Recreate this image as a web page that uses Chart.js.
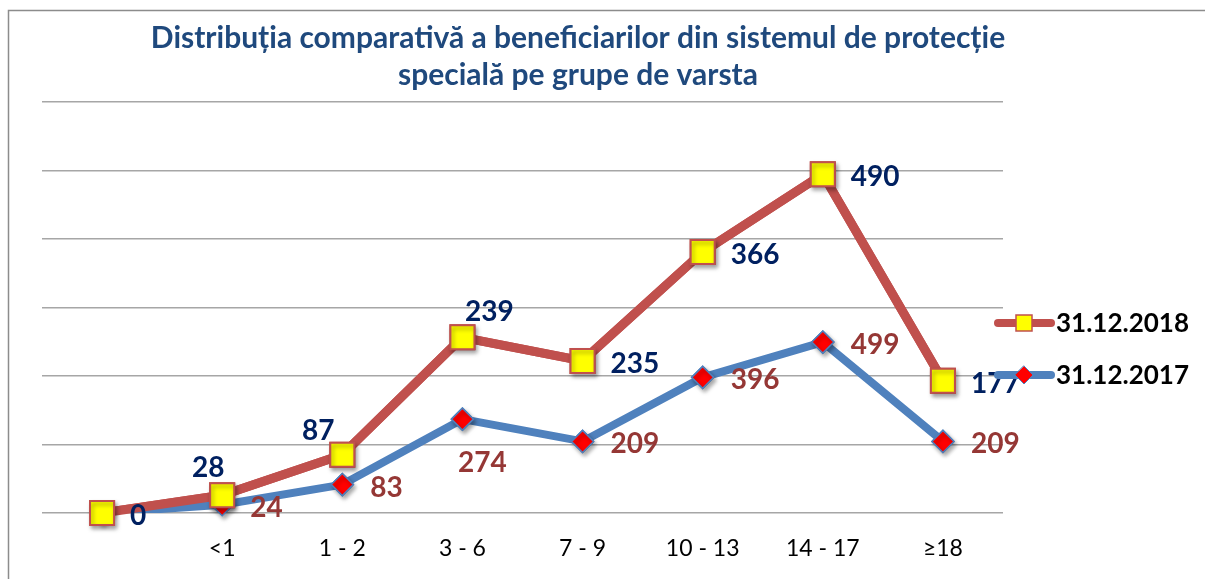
<!DOCTYPE html>
<html><head><meta charset="utf-8">
<script src="https://cdn.jsdelivr.net/npm/chart.js@4.4.1/dist/chart.umd.min.js"></script>
<style>html,body{margin:0;padding:0;background:#fff;}#wrap{position:relative;width:1205px;height:579px;}</style>
</head><body><div id="wrap"><canvas id="c" width="1205" height="579"></canvas></div>
<script>
const categories = ['', '<1', '1 - 2', '3 - 6', '7 - 9', '10 - 13', '14 - 17', '≥18'];
const values2018 = [0, 28, 87, 239, 235, 366, 490, 177];
const values2017 = [0, 24, 83, 274, 209, 396, 499, 209];
const seriesNames = ['31.12.2018', '31.12.2017'];
const titleLines = ['Distribuția comparativă a beneficiarilor din sistemul de protecție', 'specială pe grupe de varsta'];
const yMin = 0, yMax = 1200, yStep = 200;
const labelPos2018 = ['right', 'above', 'aboveLeft', 'aboveRight', 'right', 'right', 'right', 'right'];
const labelPos2017 = ['none', 'right', 'right', 'below', 'right', 'right', 'right', 'right'];

const FONT = 'Lato, "Open Sans", sans-serif';
const RED = '#C0504D', BLUE = '#4F81BD';

const framePlugin = {
  id: 'frame',
  beforeDraw(chart) {
    const ctx = chart.ctx;
    ctx.save();
    ctx.strokeStyle = '#8c8c8c';
    ctx.lineWidth = 1.5;
    ctx.beginPath();
    ctx.moveTo(8.5, 579); ctx.lineTo(8.5, 10.5); ctx.lineTo(1205, 10.5);
    ctx.stroke();
    ctx.restore();
  }
};

const titlePlugin = {
  id: 'customTitle',
  afterDraw(chart) {
    const ctx = chart.ctx;
    ctx.save();
    ctx.fillStyle = '#1F497D';
    ctx.font = 'bold 30px ' + FONT;
    ctx.textAlign = 'center';
    ctx.textBaseline = 'middle';
    ctx.fillText(titleLines[0], 578, 38);
    ctx.fillText(titleLines[1], 578, 75);
    ctx.restore();
  }
};

// Redraw 2018 line above 2017, then markers with a soft shadow
const topPlugin = {
  id: 'redrawTop',
  afterDatasetsDraw(chart) {
    const ctx = chart.ctx;
    const m0 = chart.getDatasetMeta(0), m1 = chart.getDatasetMeta(1);
    ctx.save();
    m1.dataset.draw(ctx);
    ctx.shadowColor = 'rgba(0,0,0,0.35)';
    ctx.shadowBlur = 4;
    ctx.shadowOffsetX = 2;
    ctx.shadowOffsetY = 3;
    m0.data.forEach(p => p.draw(ctx, chart.chartArea));
    m1.data.forEach(p => p.draw(ctx, chart.chartArea));
    ctx.restore();
  }
};

const labelPlugin = {
  id: 'valueLabels',
  afterDatasetsDraw(chart) {
    const ctx = chart.ctx;
    ctx.save();
    ctx.font = 'bold 28px ' + FONT;
    ctx.textBaseline = 'middle';
    const sets = [
      { idx: 1, vals: values2018, pos: labelPos2018, color: '#002060' },
      { idx: 0, vals: values2017, pos: labelPos2017, color: '#953735' }
    ];
    sets.forEach(s => {
      const meta = chart.getDatasetMeta(s.idx);
      meta.data.forEach((pt, i) => {
        const p = s.pos[i];
        if (p === 'none') return;
        const t = String(s.vals[i]);
        ctx.fillStyle = s.color;
        let x = pt.x, y = pt.y;
        if (p === 'right') { ctx.textAlign = 'left'; x += 28; y += 3; }
        else if (p === 'above') { ctx.textAlign = 'center'; x -= 14; y -= 27; }
        else if (p === 'aboveLeft') { ctx.textAlign = 'center'; x -= 24; y -= 24; }
        else if (p === 'aboveRight') { ctx.textAlign = 'center'; x += 27; y -= 25; }
        else if (p === 'below') { ctx.textAlign = 'center'; x += 20; y += 44; }
        ctx.fillText(t, x, y);
      });
    });
    ctx.restore();
  }
};

const legendPlugin = {
  id: 'customLegend',
  afterDraw(chart) {
    const ctx = chart.ctx;
    ctx.save();
    const items = [
      { name: seriesNames[0], y: 323, color: RED, lw: 8 },
      { name: seriesNames[1], y: 375, color: BLUE, lw: 8 }
    ];
    items.forEach((it, k) => {
      ctx.strokeStyle = it.color;
      ctx.lineWidth = it.lw;
      ctx.lineCap = 'round';
      ctx.beginPath(); ctx.moveTo(998, it.y); ctx.lineTo(1051, it.y); ctx.stroke();
      if (k === 0) {
        ctx.fillStyle = '#FFFF00'; ctx.strokeStyle = RED; ctx.lineWidth = 1.5;
        ctx.fillRect(1016, it.y - 8, 16, 16); ctx.strokeRect(1016, it.y - 8, 16, 16);
      } else {
        ctx.fillStyle = '#FF0000';
        ctx.beginPath();
        ctx.moveTo(1024, it.y - 9); ctx.lineTo(1033, it.y); ctx.lineTo(1024, it.y + 9); ctx.lineTo(1015, it.y); ctx.closePath();
        ctx.fill();
        ctx.strokeStyle = BLUE; ctx.lineWidth = 1; ctx.stroke();
      }
      ctx.fillStyle = '#000';
      ctx.font = 'bold 26px ' + FONT;
      ctx.textAlign = 'left'; ctx.textBaseline = 'middle';
      ctx.fillText(it.name, 1056, it.y + 1);
    });
    ctx.restore();
  }
};

new Chart(document.getElementById('c'), {
  type: 'line',
  data: {
    labels: categories,
    datasets: [
      {
        label: seriesNames[1], data: values2017,
        borderColor: BLUE, borderWidth: 8, tension: 0, borderJoinStyle: 'round',
        pointStyle: 'rectRot', pointRadius: 11, pointBackgroundColor: '#FF0000',
        pointBorderColor: BLUE, pointBorderWidth: 1.5
      },
      {
        label: seriesNames[0], data: values2018,
        borderColor: RED, borderWidth: 9, tension: 0, borderJoinStyle: 'round',
        pointStyle: 'rect', pointRadius: 17, pointBackgroundColor: '#FFFF00',
        pointBorderColor: RED, pointBorderWidth: 2
      }
    ]
  },
  options: {
    responsive: false,
    animation: false,
    devicePixelRatio: 1,
    layout: { padding: { left: 42, right: 202, top: 102, bottom: 0 } },
    plugins: { legend: { display: false }, title: { display: false }, tooltip: { enabled: false } },
    scales: {
      x: {
        offset: true,
        grid: { display: false, drawTicks: false },
        border: { display: false },
        ticks: { color: '#000', font: { family: FONT, size: 23 }, padding: 22, maxRotation: 0, autoSkip: false },
        afterFit(scale) { scale.height = 66; }
      },
      y: {
        stacked: true, min: yMin, max: yMax,
        ticks: { display: false, stepSize: yStep },
        grid: { color: '#A6A6A6', lineWidth: 1.5, drawTicks: false },
        border: { display: false }
      }
    }
  },
  plugins: [framePlugin, titlePlugin, topPlugin, labelPlugin, legendPlugin]
});
</script></body></html>
